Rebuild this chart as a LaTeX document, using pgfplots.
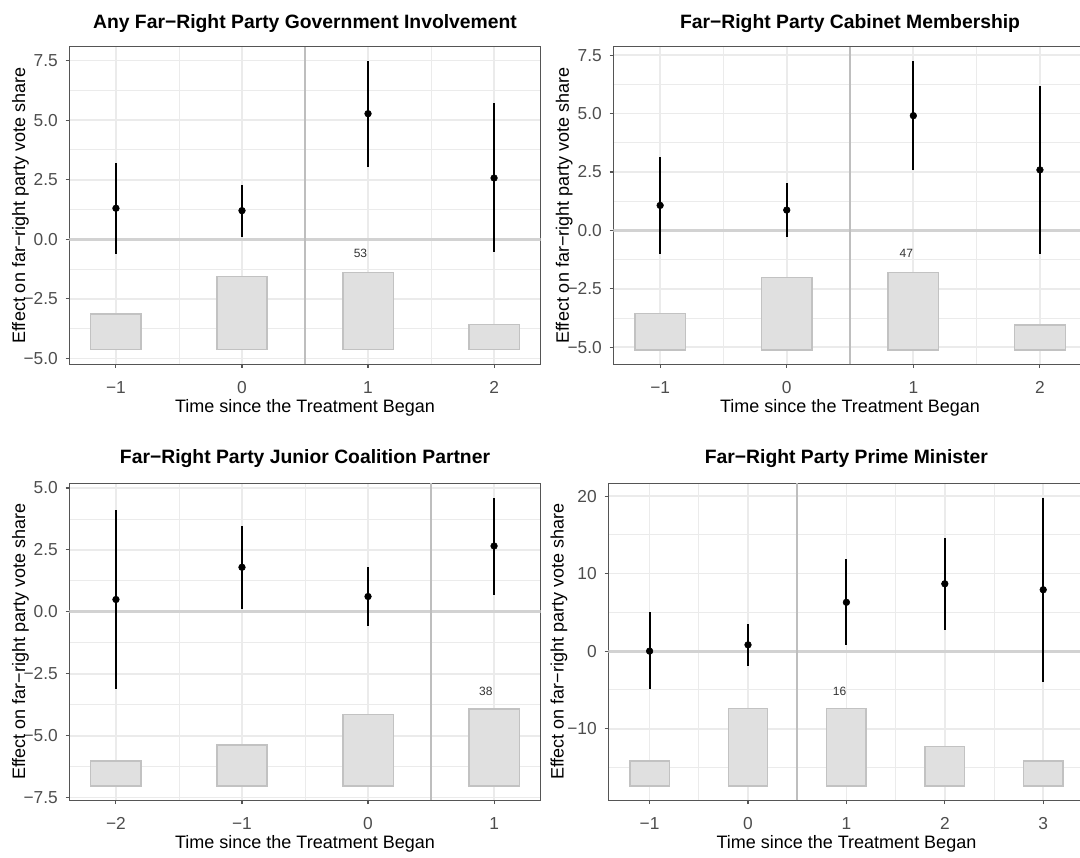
\documentclass[border=0pt]{standalone}
\usepackage{fontspec}
\setmainfont{Liberation Sans}
\usepackage{pgfplots}
\pgfplotsset{compat=1.18}
\usepackage{pgfplotstable}

\definecolor{gridc}{HTML}{EBEBEB}
\definecolor{borderc}{HTML}{555555}
\definecolor{tickc}{HTML}{4D4D4D}
\definecolor{barfill}{HTML}{E0E0E0}
\definecolor{barline}{HTML}{C2C2C2}
\definecolor{hlinec}{HTML}{D2D2D2}
\definecolor{vlinec}{HTML}{BEBEBE}
\definecolor{labc}{HTML}{333333}

% points: x, estimate, lower, upper
\pgfplotstableread{
x y lo hi
-1 1.30 -0.60 3.18
0 1.20 0.08 2.28
1 5.27 3.04 7.47
2 2.57 -0.53 5.70
}\ptsA
\pgfplotstableread{
x y lo hi
-1 1.07 -1.01 3.13
0 0.87 -0.28 2.02
1 4.91 2.59 7.24
2 2.59 -1.00 6.20
}\ptsB
\pgfplotstableread{
x y lo hi
-2 0.50 -3.13 4.13
-1 1.80 0.12 3.45
0 0.62 -0.58 1.80
1 2.66 0.70 4.61
}\ptsC
\pgfplotstableread{
x y lo hi
-1 0.00 -4.93 5.01
0 0.81 -1.93 3.51
1 6.30 0.73 11.86
2 8.69 2.78 14.56
3 7.92 -3.94 19.79
}\ptsD

\pgfplotsset{
  /pgf/number format/assume math mode=true,
  every axis y label/.style={at={(axis description cs:-0.1035,0.5)}, rotate=90, anchor=center},
  every axis x label/.style={at={(axis description cs:0.5,0)}, anchor=center, yshift=-32.8pt},
  every axis title/.style={at={(axis description cs:0.5,1)}, anchor=base, yshift=13.5pt,
    font=\bfseries\fontsize{14.5}{16}\selectfont},
  panel/.style={
    scale only axis,
    anchor=south west,
    axis line style={borderc, line width=0.8pt},
    tick pos=left,
    tick align=outside,
    major tick length=2.75pt,
    minor tick length=0pt,
    tick style={borderc, line width=0.8pt},
    grid=both,
    major grid style={gridc, line width=1.3pt},
    minor grid style={gridc, line width=0.65pt},
    xticklabel style={font=\fontsize{13}{14}\selectfont, text=tickc, anchor=base, inner sep=0pt, yshift=-19.4pt},
    yticklabel style={font=\fontsize{13}{14}\selectfont, text=tickc, anchor=east, inner sep=0pt, xshift=-5.7pt},
    label style={font=\fontsize{13.5}{15}\selectfont},
    xlabel={Time since the Treatment Began},
    ylabel={Effect on far−right party vote share},
  },
  bars/.style={fill=barfill, draw=barline, line width=1.1pt, line join=miter},
  pts/.style={black, only marks, mark=*, mark size=2.5pt,
    error bars/.cd, y dir=both, y explicit, error mark=none,
    error bar style={line width=1.4pt, black}},
}

\begin{document}
\begin{tikzpicture}

% ---------- Panel 1 ----------
\begin{axis}[panel, at={(51.98pt,369.5pt)}, width=353.55pt, height=238.2pt,
  title={Any Far−Right Party Government Involvement},
  xmin=-1.37, xmax=2.37, ymin=-5.25, ymax=8.08,
  xtick={-1,0,1,2}, xticklabels={−1,0,1,2},
  minor xtick={-0.5,0.5,1.5},
  ytick={-5,-2.5,0,2.5,5,7.5}, yticklabels={−5.0,−2.5,0.0,2.5,5.0,7.5},
  minor ytick={-3.75,-1.25,1.25,3.75,6.25}]
\addplot[hlinec, line width=2.2pt] coordinates {(-1.37,0) (2.37,0)};
\addplot[vlinec, line width=1.1pt] coordinates {(0.5,-5.25) (0.5,8.08)};
\addplot[bars] coordinates {(-1.2,-4.62) (-0.8,-4.62) (-0.8,-3.14) (-1.2,-3.14)} -- cycle;
\addplot[bars] coordinates {(-0.2,-4.62) (0.2,-4.62) (0.2,-1.56) (-0.2,-1.56)} -- cycle;
\addplot[bars] coordinates {(0.8,-4.62) (1.2,-4.62) (1.2,-1.40) (0.8,-1.40)} -- cycle;
\addplot[bars] coordinates {(1.8,-4.62) (2.2,-4.62) (2.2,-3.58) (1.8,-3.58)} -- cycle;
\addplot[pts] table[x=x, y=y, y error plus expr=\thisrow{hi}-\thisrow{y}, y error minus expr=\thisrow{y}-\thisrow{lo}] {\ptsA};
\node[font=\fontsize{9}{10}\selectfont, text=labc] at (axis cs:0.94,-0.6) {53};
\end{axis}

% ---------- Panel 2 ----------
\begin{axis}[panel, at={(459.98pt,369.5pt)}, width=355.1pt, height=238.2pt,
  title={Far−Right Party Cabinet Membership},
  xmin=-1.37, xmax=2.37, ymin=-5.73, ymax=7.86,
  xtick={-1,0,1,2}, xticklabels={−1,0,1,2},
  minor xtick={-0.5,0.5,1.5},
  ytick={-5,-2.5,0,2.5,5,7.5}, yticklabels={−5.0,−2.5,0.0,2.5,5.0,7.5},
  minor ytick={-3.75,-1.25,1.25,3.75,6.25}]
\addplot[hlinec, line width=2.2pt] coordinates {(-1.37,0) (2.37,0)};
\addplot[vlinec, line width=1.1pt] coordinates {(0.5,-5.73) (0.5,7.86)};
\addplot[bars] coordinates {(-1.2,-5.11) (-0.8,-5.11) (-0.8,-3.56) (-1.2,-3.56)} -- cycle;
\addplot[bars] coordinates {(-0.2,-5.11) (0.2,-5.11) (0.2,-2.01) (-0.2,-2.01)} -- cycle;
\addplot[bars] coordinates {(0.8,-5.11) (1.2,-5.11) (1.2,-1.79) (0.8,-1.79)} -- cycle;
\addplot[bars] coordinates {(1.8,-5.11) (2.2,-5.11) (2.2,-4.05) (1.8,-4.05)} -- cycle;
\addplot[pts] table[x=x, y=y, y error plus expr=\thisrow{hi}-\thisrow{y}, y error minus expr=\thisrow{y}-\thisrow{lo}] {\ptsB};
\node[font=\fontsize{9}{10}\selectfont, text=labc] at (axis cs:0.945,-1.0) {47};
\end{axis}

% ---------- Panel 3 ----------
\begin{axis}[panel, at={(51.98pt,42.5pt)}, width=353.55pt, height=237.75pt,
  title style={yshift=1pt},
  title={Far−Right Party Junior Coalition Partner},
  xmin=-2.37, xmax=1.37, ymin=-7.61, ymax=5.19,
  xtick={-2,-1,0,1}, xticklabels={−2,−1,0,1},
  minor xtick={-1.5,-0.5,0.5},
  ytick={-7.5,-5,-2.5,0,2.5,5}, yticklabels={−7.5,−5.0,−2.5,0.0,2.5,5.0},
  minor ytick={-6.25,-3.75,-1.25,1.25,3.75}]
\addplot[hlinec, line width=2.2pt] coordinates {(-2.37,0) (1.37,0)};
\addplot[vlinec, line width=1.1pt] coordinates {(0.5,-7.61) (0.5,5.19)};
\addplot[bars] coordinates {(-2.2,-7.03) (-1.8,-7.03) (-1.8,-6.02) (-2.2,-6.02)} -- cycle;
\addplot[bars] coordinates {(-1.2,-7.03) (-0.8,-7.03) (-0.8,-5.38) (-1.2,-5.38)} -- cycle;
\addplot[bars] coordinates {(-0.2,-7.03) (0.2,-7.03) (0.2,-4.15) (-0.2,-4.15)} -- cycle;
\addplot[bars] coordinates {(0.8,-7.03) (1.2,-7.03) (1.2,-3.92) (0.8,-3.92)} -- cycle;
\addplot[pts] table[x=x, y=y, y error plus expr=\thisrow{hi}-\thisrow{y}, y error minus expr=\thisrow{y}-\thisrow{lo}] {\ptsC};
\node[font=\fontsize{9}{10}\selectfont, text=labc] at (axis cs:0.934,-3.2) {38};
\end{axis}

% ---------- Panel 4 ----------
\begin{axis}[panel, at={(456.2pt,42.5pt)}, width=357.2pt, height=237.75pt,
  title style={yshift=1pt},
  title={Far−Right Party Prime Minister},
  xmin=-1.42, xmax=3.42, ymin=-19.25, ymax=21.65,
  xtick={-1,0,1,2,3}, xticklabels={−1,0,1,2,3},
  minor xtick={-0.5,0.5,1.5,2.5},
  ytick={-10,0,10,20}, yticklabels={−10,0,10,20},
  minor ytick={-15,-5,5,15}]
\addplot[hlinec, line width=2.2pt] coordinates {(-1.42,0) (3.42,0)};
\addplot[vlinec, line width=1.1pt] coordinates {(0.5,-19.25) (0.5,21.65)};
\addplot[bars] coordinates {(-1.2,-17.39) (-0.8,-17.39) (-0.8,-14.18) (-1.2,-14.18)} -- cycle;
\addplot[bars] coordinates {(-0.2,-17.39) (0.2,-17.39) (0.2,-7.41) (-0.2,-7.41)} -- cycle;
\addplot[bars] coordinates {(0.8,-17.39) (1.2,-17.39) (1.2,-7.41) (0.8,-7.41)} -- cycle;
\addplot[bars] coordinates {(1.8,-17.39) (2.2,-17.39) (2.2,-12.33) (1.8,-12.33)} -- cycle;
\addplot[bars] coordinates {(2.8,-17.39) (3.2,-17.39) (3.2,-14.18) (2.8,-14.18)} -- cycle;
\addplot[pts] table[x=x, y=y, y error plus expr=\thisrow{hi}-\thisrow{y}, y error minus expr=\thisrow{y}-\thisrow{lo}] {\ptsD};
\node[font=\fontsize{9}{10}\selectfont, text=labc] at (axis cs:0.93,-5.14) {16};
\end{axis}

\pgfresetboundingbox
\useasboundingbox (0pt,0pt) rectangle (810pt,642.75pt);
\end{tikzpicture}
\end{document}
